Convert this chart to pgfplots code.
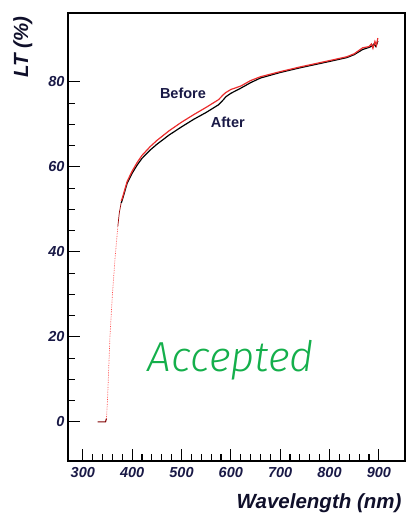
\documentclass[border=0pt]{standalone}
\usepackage{fontspec}
\setmainfont{Liberation Sans}
\newfontfamily\handfont{Fira Sans Light}
\usepackage{pgfplots}
\pgfplotsset{compat=1.18}
\usetikzlibrary{calc}
\definecolor{navy}{RGB}{25,25,70}
\definecolor{redline}{RGB}{235,45,45}
\definecolor{accgreen}{RGB}{20,175,75}
\begin{document}
\begin{tikzpicture}
\begin{axis}[
  scale only axis, width=337pt, height=448pt,
  xmin=270, xmax=953, ymin=-9.2, ymax=96.2,
  axis line style={line width=1.3pt},
  xtick={300,400,...,900}, minor x tick num=4,
  ytick={0,20,...,80}, minor y tick num=3,
  tick align=inside, tick pos=left,
  major tick length=12pt, minor tick length=7pt,
  every tick/.style={black, line width=1.1pt},
  /pgf/number format/assume math mode=true,
  ticklabel style={font=\fontsize{14.5}{14.5}\selectfont\bfseries\itshape, text=navy},
  xticklabel style={yshift=-3pt},
  xlabel={Wavelength (nm)},
  ylabel={LT (\%)},
  xlabel style={font=\fontsize{20.5}{20.5}\selectfont\bfseries\itshape, text=navy!60!black, at={(axis description cs:1,0)}, anchor=base east, yshift=-47pt},
  ylabel style={font=\fontsize{20.5}{20.5}\selectfont\bfseries\itshape, text=navy!60!black, at={(axis description cs:-0.095,1)}, anchor=south east},
]
% flat part
\addplot[color=red!50!black, line width=1.1pt] coordinates {(330,0)(346,0)(348,0.8)};
% steep rise (faint, dotted)
\addplot[color=red!70, densely dotted, line width=0.7pt] coordinates {(348,0.8)(350,5)(353,14)(355,20)(360,30)(365,38)(368,42)(371,46)};
% thin transition
\addplot[color=red!60!black, line width=0.7pt] coordinates {(371,46)(374,49.2)(378,51.7)};
% After (black)
\addplot[color=black, line width=1.2pt] coordinates {
(378,51.5)(380,52.2)(390,56.2)(400,58.5)(410,60.4)(420,62.0)(436,63.9)(450,65.3)(475,67.5)(500,69.4)(525,71.2)(550,72.8)(575,74.6)(585,75.8)(590,76.5)(600,77.3)(620,78.5)(640,79.8)(660,80.9)(700,82.2)(740,83.3)(780,84.3)(800,84.8)(835,85.7)(850,86.4)(867,87.6)(880,88.1)(886,88.4)(890,88.9)(894,88.3)(898,89.6)};
% Before (red)
\addplot[color=redline, line width=1.2pt] coordinates {
(378,52.0)(380,52.6)(390,56.6)(400,59.0)(410,61.0)(420,62.7)(436,64.7)(450,66.2)(475,68.5)(500,70.5)(525,72.3)(550,74.0)(575,75.8)(585,77.0)(590,77.5)(600,78.2)(620,79.0)(640,80.3)(660,81.2)(700,82.4)(740,83.5)(780,84.5)(800,85.0)(835,85.9)(850,86.6)(867,88.0)(880,88.3)(885,88.9)(888,87.9)(892,89.5)(895,88.6)(898,90.3)};
\node[font=\fontsize{14.5}{14.5}\selectfont\bfseries, text=navy] at (axis cs:503,77.4) {Before};
\node[font=\fontsize{14.5}{14.5}\selectfont\bfseries, text=navy] at (axis cs:594,70.4) {After};
\node[font=\fontsize{42}{42}\selectfont\handfont\itshape, text=accgreen, anchor=base] at (axis cs:600,11.8) {Accepted};
\end{axis}
\pgfresetboundingbox
\useasboundingbox ($(current axis.south west)+(-68pt,-52pt)$) rectangle ($(current axis.north east)+(8pt,13pt)$);
\end{tikzpicture}
\end{document}
